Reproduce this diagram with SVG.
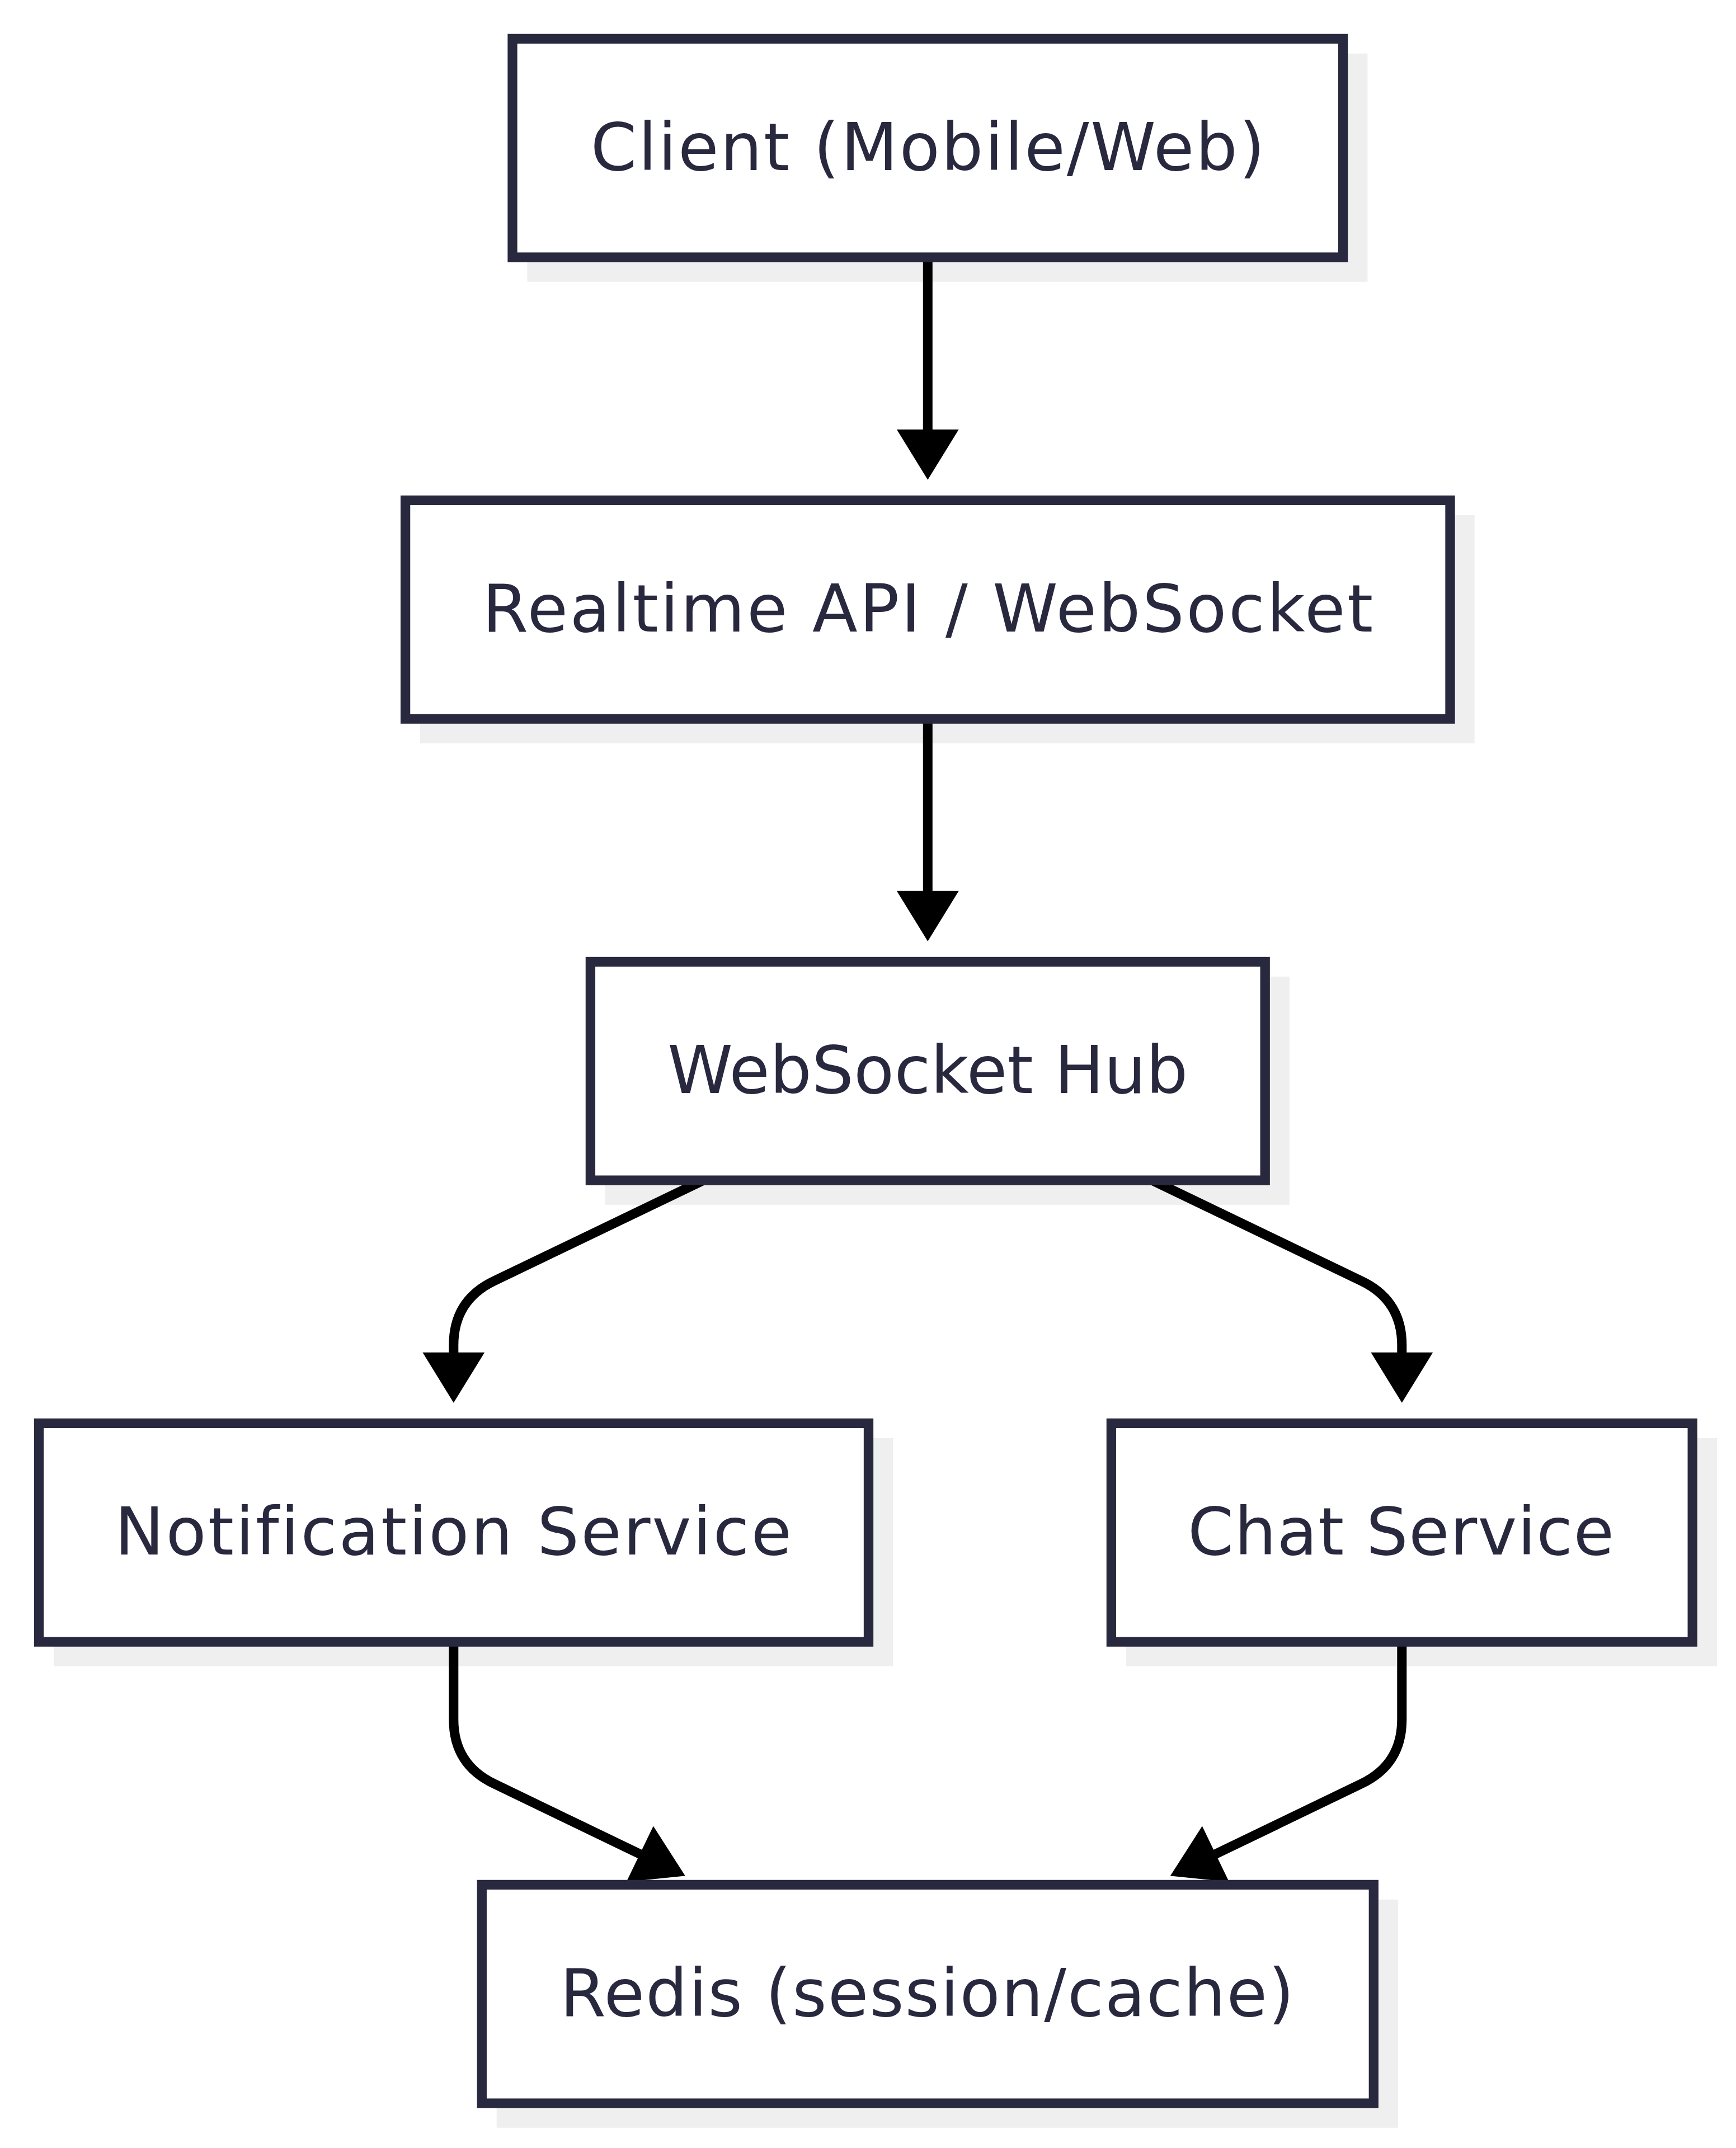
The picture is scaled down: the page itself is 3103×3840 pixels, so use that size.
<svg xmlns="http://www.w3.org/2000/svg" width="3103" height="3840" viewBox="0 0 3103 3840">
<style>
.shadow{fill:#efefef;stroke:none}
.box{fill:#ffffff;stroke:#28283e;stroke-width:17.3}
.label{font-family:"DejaVu Sans","Noto Sans",sans-serif;font-size:118px;fill:#28283e;text-anchor:middle;font-variant-ligatures:none}
.edge{fill:none;stroke:#000000;stroke-width:17;marker-end:url(#arrow)}
</style>
<defs>
<marker id="arrow" markerUnits="userSpaceOnUse" markerWidth="92" markerHeight="112" viewBox="0 -56 92 112" refX="1" refY="0" orient="auto" overflow="visible">
<path d="M0,-55.4 L90,0 L0,55.4 Z" fill="#000000"/>
</marker>
</defs>
<rect width="3103" height="3840" fill="#ffffff"/>
<g id="shadows">
<rect class="shadow" x="942.4" y="95.7" width="1502" height="408"/>
<rect class="shadow" x="751" y="920.8" width="1884.7" height="408"/>
<rect class="shadow" x="1081.8" y="1745.8" width="1223.1" height="408"/>
<rect class="shadow" x="95.9" y="2570.8" width="1500.3" height="408"/>
<rect class="shadow" x="2012.8" y="2570.8" width="1056.1" height="408"/>
<rect class="shadow" x="887.7" y="3395.8" width="1611.3" height="408"/>
</g>
<g id="connectors">
<path class="edge" d="M1658.3,460 L1658.3,768.7"/>
<path class="edge" d="M1658.3,1285 L1658.3,1593.7"/>
<path class="edge" d="M1257.3,2110 L882.9,2290.1 Q810.8,2324.8 810.8,2404.8 L810.8,2418.7"/>
<path class="edge" d="M2059.3,2110 L2433.7,2290.1 Q2505.8,2324.8 2505.8,2404.8 L2505.8,2418.7"/>
<path class="edge" d="M810.8,2936 L810.8,3074 Q810.8,3154 882.9,3188.7 L1144.6,3314.9"/>
<path class="edge" d="M2505.8,2936 L2505.8,3074 Q2505.8,3154 2433.7,3188.7 L2172,3314.9"/>
</g>
<g id="client">
<rect class="box" x="916" y="69.3" width="1484.6" height="390.7"/>
<text class="label" x="1658.3" y="303.7" textLength="1205" lengthAdjust="spacing">Client (Mobile/Web)</text>
</g>
<g id="realtime">
<rect class="box" x="724.6" y="894.4" width="1867.4" height="390.7"/>
<text class="label" x="1658.3" y="1128.7" textLength="1592" lengthAdjust="spacing">Realtime API / WebSocket</text>
</g>
<g id="hub">
<rect class="box" x="1055.4" y="1719.4" width="1205.8" height="390.7"/>
<text class="label" x="1658.3" y="1953.7" textLength="930" lengthAdjust="spacing">WebSocket Hub</text>
</g>
<g id="notification">
<rect class="box" x="69.5" y="2544.4" width="1483" height="390.7"/>
<text class="label" x="810" y="2778.7" textLength="1210" lengthAdjust="spacing">Notification Service</text>
</g>
<g id="chat">
<rect class="box" x="1986.4" y="2544.4" width="1038.8" height="390.7"/>
<text class="label" x="2504" y="2778.7" textLength="762" lengthAdjust="spacing">Chat Service</text>
</g>
<g id="redis">
<rect class="box" x="861.3" y="3369.4" width="1594" height="390.7"/>
<text class="label" x="1657" y="3603.7" textLength="1312" lengthAdjust="spacing">Redis (session/cache)</text>
</g>
</svg>
